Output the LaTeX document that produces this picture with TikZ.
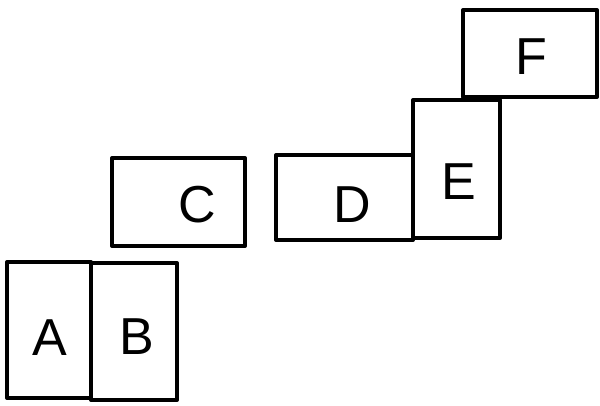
\documentclass[tikz,border=0pt]{standalone}
\usepackage{fontspec}
\setmainfont{Liberation Sans}
\begin{document}
\begin{tikzpicture}[x=1pt,y=-1pt,
  box/.style={draw=black, line width=4pt, line join=round, rectangle, inner sep=0pt, outer sep=0pt},
  lbl/.style={font=\fontsize{52}{52}\selectfont, inner sep=0pt}]
\useasboundingbox (0,0) rectangle (600,405);
\node[box, minimum width=84pt, minimum height=136pt] (a) at (49,330) {};
\node[box, minimum width=86pt, minimum height=137pt] (b) at (134,331.5) {};
\node[box, minimum width=133pt, minimum height=88pt] (c) at (178.5,202) {};
\node[box, minimum width=137pt, minimum height=85pt] (d) at (344.5,197.5) {};
\node[box, minimum width=87pt, minimum height=138pt] (e) at (456.5,169) {};
\node[box, minimum width=134pt, minimum height=87pt] (f) at (530,53.5) {};
\node[lbl] (la) at (50,338) {A};
\node[lbl] (lb) at (137,337) {B};
\node[lbl] (lc) at (197,205) {C};
\node[lbl] (ld) at (352,205) {D};
\node[lbl] (le) at (459,182) {E};
\node[lbl] (lf) at (531,57) {F};
\end{tikzpicture}
\end{document}
